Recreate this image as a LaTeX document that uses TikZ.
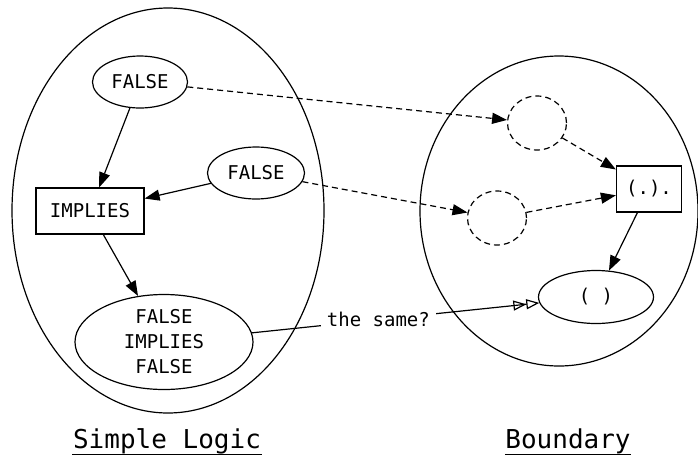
\documentclass[tikz,border=0pt]{standalone}
\usepackage{fontspec}
\newfontfamily\diagfont{DejaVu Sans Mono}
\usetikzlibrary{shapes.geometric,arrows.meta}

\begin{document}
\begin{tikzpicture}[x=1pt,y=-1pt,line width=1.2pt,
    every node/.style={font=\diagfont\fontsize{19}{25}\selectfont,inner sep=0pt},
    oval/.style={draw,ellipse},
    box/.style={draw,rectangle},
    hole/.style={draw,ellipse,dash pattern=on 6pt off 4pt},
    caption/.style={font=\diagfont\fontsize{26}{30}\selectfont,anchor=base},
    link/.style={->,dash pattern=on 6pt off 4pt},
    same/.style={-{Triangle[open,length=13pt,width=10pt]Triangle[open,length=13pt,width=10pt]}},
    >={Triangle[length=15pt,width=11pt]}]
    \useasboundingbox (0,0) rectangle (698,456);

    % clusters
    \node[oval,minimum width=312pt,minimum height=405pt] (logic) at (168,210.5) {};
    \node[oval,minimum width=278pt,minimum height=310pt] (bound) at (559,211) {};

    % simple logic
    \node[oval,minimum width=95pt,minimum height=52pt] (false_1) at (140,82) {FALSE};
    \node[oval,minimum width=97pt,minimum height=52pt] (false_2) at (256,173) {FALSE};
    \node[box,minimum width=108pt,minimum height=46pt] (implies) at (90,211) {IMPLIES};
    \node[oval,minimum width=178pt,minimum height=95pt,align=center] (expr) at (164,342) {FALSE\\IMPLIES\\FALSE};

    % boundary
    \node[hole,minimum width=59pt,minimum height=54pt] (hole_1) at (537,123) {};
    \node[hole,minimum width=59pt,minimum height=54pt] (hole_2) at (497,218) {};
    \node[box,minimum width=65pt,minimum height=46pt] (app) at (649,189) {(.).};
    \node[oval,minimum width=115pt,minimum height=53pt] (unit) at (596,297) {( )};

    \draw[->] (false_1) -- (implies);
    \draw[->] (false_2) -- (implies);
    \draw[->] (implies) -- (expr);
    \draw[link] (false_1) -- (hole_1);
    \draw[link] (false_2) -- (hole_2);
    \draw[link] (hole_1) -- (app);
    \draw[link] (hole_2) -- (app);
    \draw[->] (app) -- (unit);
    \draw[same] (expr) -- node[pos=0.44,fill=white,inner sep=6pt] (same_label) {the same?} (unit);

    % captions
    \node[caption] (logic_name) at (167,448) {Simple Logic};
    \node[caption] (bound_name) at (568,448) {Boundary};
    \draw[line width=1pt] ([yshift=-6.5pt]logic_name.base west) -- ([yshift=-6.5pt]logic_name.base east);
    \draw[line width=1pt] ([yshift=-6.5pt]bound_name.base west) -- ([yshift=-6.5pt]bound_name.base east);
\end{tikzpicture}
\end{document}
